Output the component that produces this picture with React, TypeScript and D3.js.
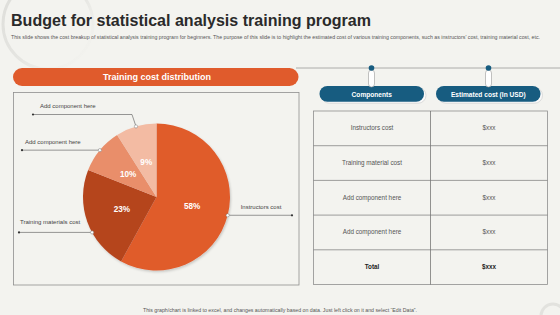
import React from "react";
import * as d3 from "d3";

const sliceLabels = ["Instructors cost", "Training materials cost", "Add component here", "Add component here"];
const sliceValues = [58, 23, 10, 9];
const sliceColors = ["#e05b2c", "#b5441f", "#e98e6a", "#f3bba3"];

const tableHeaders = ["Components", "Estimated cost (In USD)"];
const tableComponents = ["Instructors cost", "Training material cost", "Add component here", "Add component here", "Total"];
const tableCosts = ["$xxx", "$xxx", "$xxx", "$xxx", "$xxx"];

const TITLE = "Budget for statistical analysis training program";
const SUBTITLE = "This slide shows the cost breakup of statistical analysis training program for beginners. The purpose of this slide is to highlight the estimated cost of various training components, such as instructors' cost, training material cost, etc.";
const FOOT = "This graph/chart is linked to excel, and changes automatically based on data. Just left click on it and select \u201cEdit Data\u201d.";

const W = 560, H = 315;
const FONT = "'Liberation Sans', Arial, sans-serif";

// leader line layout: anchor angle shift (deg), end x, optional elbow y, label position
const leaders = [
  { shift: 0, endX: 292, elbowY: null as number | null, labelX: 261, labelDy: -6, anchor: "middle" },
  { shift: -9, endX: 19, elbowY: null as number | null, labelX: 20, labelDy: -8, anchor: "start" },
  { shift: 0, endX: 22, elbowY: null as number | null, labelX: 25, labelDy: -6, anchor: "start" },
  { shift: 0, endX: 33, elbowY: 114.5 as number | null, labelX: 40, labelDy: -7, anchor: "start" },
];

export default function App() {
  const cx = 156.5, cy = 197, r = 73.5;
  const pie = d3.pie<number>().sort(null).value((d) => d)(sliceValues);
  const arc = d3.arc<d3.PieArcDatum<number>>().innerRadius(0).outerRadius(r);
  const labelArc = d3.arc<d3.PieArcDatum<number>>().innerRadius(r * 0.5).outerRadius(r * 0.5);

  const tableX = d3.scaleLinear().domain([0, 1, 2]).range([313.5, 430.5, 547.5]);
  const tableY = d3.scaleLinear().domain([0, tableComponents.length]).range([111, 284.5]);
  const rowH = tableY(1) - tableY(0);

  const headerPills = [
    { x0: 319.5, x1: 424, cxDot: 371.5 },
    { x0: 436, x1: 540.5, cxDot: 488.5 },
  ];

  return (
    <svg width={W} height={H} style={{ position: "absolute", left: 0, top: 0, background: "#f3f3ef" }} fontFamily={FONT}>
      <rect x={0} y={0} width={W} height={H} fill="#f3f3ef" />
      <defs>
        <filter id="sh" x="-20%" y="-20%" width="140%" height="140%">
          <feDropShadow dx="1" dy="1.5" stdDeviation="1.2" floodColor="#000" floodOpacity="0.18" />
        </filter>
        <linearGradient id="fade" x1="0" y1="0" x2="1" y2="1">
          <stop offset="0" stopColor="#dcdcd8" stopOpacity="1" />
          <stop offset="0.55" stopColor="#e4e4e0" stopOpacity="0.9" />
          <stop offset="1" stopColor="#f3f3ef" stopOpacity="0" />
        </linearGradient>
      </defs>
      {/* decorative arcs */}
      <circle cx={48} cy={24} r={45} fill="none" stroke="url(#fade)" strokeWidth={3} />
      <circle cx={553} cy={316} r={12} fill="none" stroke="#e2e2de" strokeWidth={3} />

      {/* title */}
      <text x={11} y={25.5} fontSize={16} fontWeight="bold" fill="#2a2a2a" textLength={360} lengthAdjust="spacingAndGlyphs">{TITLE}</text>
      <text x={11} y={39} fontSize={4.7} fill="#555" textLength={529} lengthAdjust="spacingAndGlyphs">{SUBTITLE}</text>

      {/* line across */}
      <line x1={296} x2={W} y1={68} y2={68} stroke="#9a9a9a" strokeWidth={0.8} />

      {/* orange pill */}
      <rect x={13} y={68} width={285.5} height={18} rx={9} fill="#e05b2c" />
      <text x={157} y={80.3} fontSize={9} fontWeight="bold" fill="#fff" textAnchor="middle">Training cost distribution</text>

      {/* pie box */}
      <rect x={13.5} y={92.5} width={285.5} height={192.5} fill="none" stroke="#8e8e8e" strokeWidth={0.8} />

      <g transform={`translate(${cx},${cy})`}>
        <g filter="url(#sh)">
          {pie.map((p, i) => (
            <path key={i} d={arc(p) || ""} fill={sliceColors[i]} />
          ))}
        </g>
        {pie.map((p, i) => {
          const [lx, ly] = labelArc.centroid(p);
          return (
            <text key={i} x={lx} y={ly + 3} fontSize={8.2} fontWeight="bold" fill="#fff" textAnchor="middle">
              {sliceValues[i]}%
            </text>
          );
        })}
      </g>

      {/* leaders */}
      {pie.map((p, i) => {
        const L = leaders[i];
        const a = (p.startAngle + p.endAngle) / 2 + (L.shift * Math.PI) / 180;
        const ax = cx + r * Math.sin(a), ay = cy - r * Math.cos(a);
        const hy = L.elbowY ?? ay;
        const pts = L.elbowY != null ? `${ax},${ay} ${ax - 4},${hy} ${L.endX},${hy}` : `${ax},${ay} ${L.endX},${hy}`;
        return (
          <g key={i}>
            <polyline points={pts} fill="none" stroke="#555" strokeWidth={0.6} />
            <circle cx={L.endX} cy={hy} r={1.1} fill="#333" />
            <circle cx={ax} cy={ay} r={1.6} fill="#fff" stroke="#777" strokeWidth={0.5} />
            <text x={L.labelX} y={hy + L.labelDy} fontSize={6} fill="#444" textAnchor={L.anchor as any}>{sliceLabels[i]}</text>
          </g>
        );
      })}

      {/* header pills */}
      {headerPills.map((h, i) => (
        <g key={i}>
          <rect x={h.x0 + 2} y={87.5} width={h.x1 - h.x0} height={15.7} rx={7.8} fill="#fafafa" stroke="#c9c9c9" strokeWidth={0.6} />
          <rect x={h.x0} y={86} width={h.x1 - h.x0} height={15.7} rx={7.8} fill="#175c80" />
          <rect x={h.cxDot - 3} y={70} width={6} height={17} rx={3} fill="#fff" stroke="#999" strokeWidth={0.6} />
          <circle cx={h.cxDot} cy={68} r={2.8} fill="#175c80" />
          <text x={(h.x0 + h.x1) / 2} y={96.5} fontSize={6.6} fontWeight="bold" fill="#fff" textAnchor="middle">{tableHeaders[i]}</text>
        </g>
      ))}

      {/* table */}
      <rect x={tableX(0)} y={tableY(0)} width={tableX(2) - tableX(0)} height={tableY(tableComponents.length) - tableY(0)} fill="none" stroke="#8e8e8e" strokeWidth={0.8} />
      <line x1={tableX(1)} x2={tableX(1)} y1={tableY(0)} y2={tableY(tableComponents.length)} stroke="#666" strokeWidth={0.7} />
      {tableComponents.slice(1).map((_, i) => (
        <line key={i} x1={tableX(0)} x2={tableX(2)} y1={tableY(i + 1)} y2={tableY(i + 1)} stroke="#777" strokeWidth={0.7} />
      ))}
      {tableComponents.map((c, i) => {
        const isTotal = i === tableComponents.length - 1;
        const y = tableY(i) + rowH / 2 + 2;
        return (
          <g key={i}>
            <text x={(tableX(0) + tableX(1)) / 2} y={y} fontSize={6.3} textAnchor="middle" fill={isTotal ? "#222" : "#555"} fontWeight={isTotal ? "bold" : "normal"}>{c}</text>
            <text x={(tableX(1) + tableX(2)) / 2} y={y} fontSize={6.3} textAnchor="middle" fill={isTotal ? "#222" : "#555"} fontWeight={isTotal ? "bold" : "normal"}>{tableCosts[i]}</text>
          </g>
        );
      })}

      {/* footnote */}
      <text x={280} y={311.5} fontSize={4.8} fill="#555" textAnchor="middle" textLength={274} lengthAdjust="spacingAndGlyphs">{FOOT}</text>
    </svg>
  );
}
